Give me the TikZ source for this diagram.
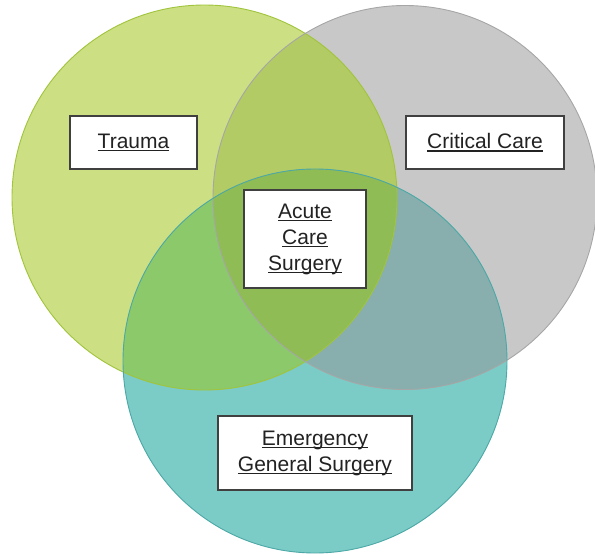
\documentclass[tikz,border=0pt]{standalone}
\usepackage{fontspec}
\setmainfont{Liberation Sans}
\definecolor{traumaFill}{RGB}{204,223,131}
\definecolor{critFill}{RGB}{200,200,200}
\definecolor{egsFill}{RGB}{123,203,198}
\definecolor{tcFill}{RGB}{179,203,100}
\definecolor{teFill}{RGB}{140,201,106}
\definecolor{ceFill}{RGB}{136,175,174}
\definecolor{allFill}{RGB}{143,188,84}
\definecolor{traumaEdge}{RGB}{160,196,60}
\definecolor{critEdge}{RGB}{166,166,166}
\definecolor{egsEdge}{RGB}{75,168,166}
\definecolor{boxEdge}{RGB}{64,64,64}
\definecolor{labelText}{RGB}{34,34,34}
% underline at a fixed depth, through the descenders
\newcommand\ulword[1]{\setbox0\hbox{#1}\rlap{\rule[-2.9pt]{\wd0}{1.2pt}}\box0}
\tikzset{
  labelbox/.style={draw=boxEdge, line width=1.2pt, fill=white, text=labelText,
    align=center, inner sep=0pt, font=\fontsize{21}{26}\selectfont},
  ring/.style={line width=0.9pt}
}
\begin{document}
\begin{tikzpicture}[x=1pt,y=-1pt]
\useasboundingbox (0,0) rectangle (595,554);
\coordinate (cT) at (204.5,197.5);
\coordinate (cC) at (405,197.5);
\coordinate (cE) at (315,361);
% base discs
\fill[traumaFill] (cT) circle[radius=192.5];
\fill[critFill] (cC) circle[radius=192];
\fill[egsFill] (cE) circle[radius=192];
% pairwise overlaps
\begin{scope}
  \clip (cT) circle[radius=192.5];
  \fill[tcFill] (cC) circle[radius=192];
  \fill[teFill] (cE) circle[radius=192];
\end{scope}
\begin{scope}
  \clip (cC) circle[radius=192];
  \fill[ceFill] (cE) circle[radius=192];
\end{scope}
% triple overlap
\begin{scope}
  \clip (cT) circle[radius=192.5];
  \clip (cC) circle[radius=192];
  \fill[allFill] (cE) circle[radius=192];
\end{scope}
% outlines
\draw[ring, traumaEdge] (cT) circle[radius=192.5];
\draw[ring, critEdge] (cC) circle[radius=192];
\draw[ring, egsEdge] (cE) circle[radius=192];
% labels
\node[labelbox, minimum width=127pt, minimum height=53pt] (trauma) at (133.5,142.5) {\ulword{Trauma}};
\node[labelbox, minimum width=158pt, minimum height=53pt] (crit) at (485,142.5) {\ulword{Critical Care}};
\node[labelbox, minimum width=122pt, minimum height=98pt] (acs) at (305,239) {\ulword{Acute}\\\ulword{Care}\\\ulword{Surgery}};
\node[labelbox, minimum width=194pt, minimum height=74pt] (egs) at (315,453) {\ulword{Emergency}\\\ulword{General Surgery}};
\end{tikzpicture}
\end{document}
